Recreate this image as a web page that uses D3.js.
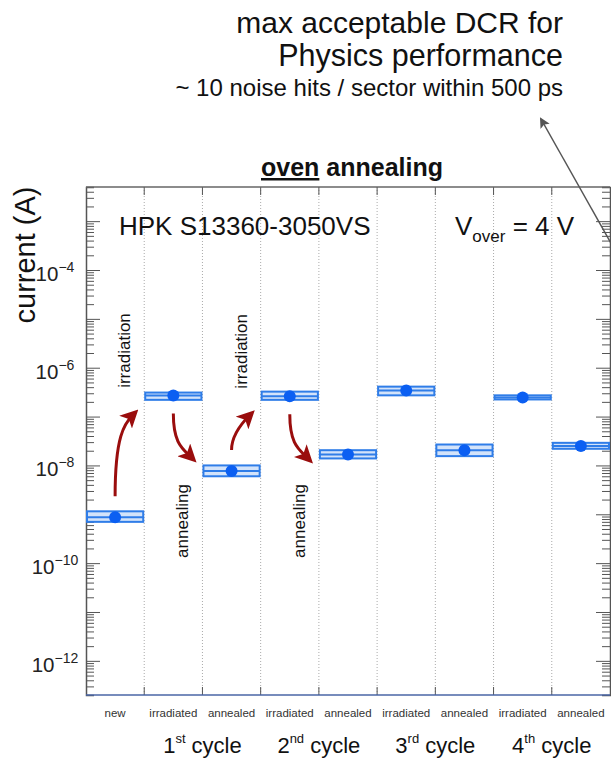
<!DOCTYPE html>
<html>
<head>
<meta charset="utf-8">
<script src="https://cdn.jsdelivr.net/npm/d3@7"></script>
<style>
  body { margin: 0; background: #fff; }
  svg { font-family: "Liberation Sans", Arial, Helvetica, sans-serif; }
</style>
</head>
<body>
<svg width="611" height="759"></svg>
<script>
var width = 611, height = 759;

// data
var stages = ['new', 'irradiated', 'annealed', 'irradiated', 'annealed', 'irradiated', 'annealed', 'irradiated', 'annealed'];
var current = [8.7e-10, 2.7e-7, 7.7e-9, 2.6e-7, 1.67e-8, 3.4e-7, 2.05e-8, 2.45e-7, 2.5e-8];
var currentLo = [7.0e-10, 2.2e-7, 6.0e-9, 2.2e-7, 1.39e-8, 2.72e-7, 1.55e-8, 2.24e-7, 2.19e-8];
var currentHi = [1.15e-9, 3.1e-7, 1.0e-8, 3.24e-7, 2.05e-8, 4.1e-7, 2.68e-8, 2.72e-7, 2.9e-8];
var cycles = [{n: '1', sup: 'st'}, {n: '2', sup: 'nd'}, {n: '3', sup: 'rd'}, {n: '4', sup: 'th'}];
var decadeLabels = [-12, -10, -8, -6, -4];
// arrows between stages: [from, to, kind]
var steps = [[0, 1, 'irradiation'], [1, 2, 'annealing'], [2, 3, 'irradiation'], [3, 4, 'annealing']];

var margin = {left: 86, right: 1, top: 187, bottom: 64};

var svg = d3.select('svg');

var x = d3.scaleBand()
            .domain(d3.range(stages.length))
            .range([margin.left, width - margin.right])
            .padding(0);

var y = d3.scaleLog()
            .domain([2e-13, 5e-3])
            .range([height - margin.bottom, margin.top]);

var x0 = margin.left, x1 = width - margin.right;
var y0 = height - margin.bottom, y1 = margin.top;

// tick values: decades plus 2..9
var tickVals = [];
for (var e = -13; e <= -3; e++) {
    for (var m = 1; m <= 9; m++) {
        var v = m * Math.pow(10, e);
        if (v >= 2e-13 && v <= 5e-3) tickVals.push(v);
    }
}
function isDecade(v) {
    var l = Math.log10(v);
    return Math.abs(l - Math.round(l)) < 1e-6;
}

// vertical dotted grid at stage boundaries
var bounds = d3.range(1, stages.length).map(i => x(i));

svg.append('g')
    .selectAll('line')
    .data(bounds)
    .enter()
    .append('line')
        .attr('x1', d => d).attr('x2', d => d)
        .attr('y1', y1).attr('y2', y0)
        .attr('stroke', '#aaa')
        .attr('stroke-width', 1)
        .attr('stroke-dasharray', '1,2');

// solid short ticks at top and bottom of boundaries
svg.append('g')
    .selectAll('line')
    .data(bounds)
    .enter()
    .append('line')
        .attr('x1', d => d).attr('x2', d => d)
        .attr('y1', y1).attr('y2', y1 + 8)
        .attr('stroke', '#555');
svg.append('g')
    .selectAll('line')
    .data(bounds)
    .enter()
    .append('line')
        .attr('x1', d => d).attr('x2', d => d)
        .attr('y1', y0 - 8).attr('y2', y0)
        .attr('stroke', '#555');

// left axis, ticks inside
var leftAxis = svg.append('g')
    .attr('transform', `translate(${x0},0)`)
    .call(d3.axisRight(y).tickValues(tickVals).tickSize(8).tickFormat(''));
leftAxis.select('.domain').attr('stroke', '#555').attr('stroke-width', 1.5);
leftAxis.selectAll('.tick line')
    .attr('x2', d => isDecade(d) ? 14 : 8)
    .attr('stroke', '#555');

// right axis, ticks inside
var rightAxis = svg.append('g')
    .attr('transform', `translate(${x1},0)`)
    .call(d3.axisLeft(y).tickValues(tickVals).tickSize(8).tickFormat(''));
rightAxis.select('.domain').attr('stroke', '#555').attr('stroke-width', 1.5);
rightAxis.selectAll('.tick line')
    .attr('x2', d => isDecade(d) ? -14 : -8)
    .attr('stroke', '#555');

// top and bottom frame
svg.append('line')
    .attr('x1', x0).attr('x2', x1).attr('y1', y1).attr('y2', y1)
    .attr('stroke', '#666').attr('stroke-width', 1.5);
svg.append('line')
    .attr('x1', x0).attr('x2', x1).attr('y1', y0).attr('y2', y0)
    .attr('stroke', '#4a66a6').attr('stroke-width', 1.5);

// y tick labels 10^n
var yl = svg.append('g')
    .selectAll('text')
    .data(decadeLabels)
    .enter()
    .append('text')
        .attr('x', 55)
        .attr('y', d => y(Math.pow(10, d)) + 11)
        .attr('text-anchor', 'middle')
        .attr('fill', '#222')
        .style('font-size', '20.5px');
yl.append('tspan').text('10');
yl.append('tspan')
    .attr('dy', -9)
    .style('font-size', '14px')
    .text(d => '\u2212' + Math.abs(d));

// y title
svg.append('text')
    .attr('transform', `translate(35,255) rotate(-90)`)
    .attr('text-anchor', 'middle')
    .attr('fill', '#111')
    .style('font-size', '29px')
    .text('current (A)');

// boxes
var mainBlue = '#2f7de8';
var g = svg.append('g');

g.selectAll('.box')
    .data(current)
    .enter()
    .append('rect')
        .classed('box', true)
        .attr('x', (d, i) => x(i) + 1)
        .attr('width', x.bandwidth() - 2)
        .attr('y', (d, i) => y(currentHi[i]))
        .attr('height', (d, i) => Math.max(2, y(currentLo[i]) - y(currentHi[i])))
        .attr('fill', '#d3e3fa')
        .attr('stroke', mainBlue)
        .attr('stroke-width', 2);

g.selectAll('.mid')
    .data(current)
    .enter()
    .append('line')
        .classed('mid', true)
        .attr('x1', (d, i) => x(i) + 1)
        .attr('x2', (d, i) => x(i) + x.bandwidth() - 1)
        .attr('y1', d => y(d))
        .attr('y2', d => y(d))
        .attr('stroke', mainBlue)
        .attr('stroke-width', 2);

g.selectAll('.dot')
    .data(current)
    .enter()
    .append('circle')
        .classed('dot', true)
        .attr('cx', (d, i) => x(i) + x.bandwidth() / 2)
        .attr('cy', d => y(d))
        .attr('r', 6)
        .attr('fill', '#0b5ff2');

// red curved arrows
var red = '#9a0d0d';
var defs = svg.append('defs');
defs.append('marker')
    .attr('id', 'redhead')
    .attr('viewBox', '0 0 10 10')
    .attr('refX', 6).attr('refY', 5)
    .attr('markerWidth', 6).attr('markerHeight', 6)
    .attr('markerUnits', 'strokeWidth')
    .attr('orient', 'auto')
    .append('path')
        .attr('d', 'M0,0 L10,5 L0,10 L2.5,5 Z')
        .attr('fill', red);
defs.append('marker')
    .attr('id', 'greyhead')
    .attr('viewBox', '0 0 10 10')
    .attr('refX', 8).attr('refY', 5)
    .attr('markerWidth', 7).attr('markerHeight', 7)
    .attr('markerUnits', 'strokeWidth')
    .attr('orient', 'auto')
    .append('path')
        .attr('d', 'M0,0 L10,5 L0,10 L2,5 Z')
        .attr('fill', '#555');

function arrowPath(s) {
    var a = s[0], b = s[1];
    var sx = x(a) + x.bandwidth() / 2;
    var ex = x(b) - 11;
    var sy, ey;
    if (s[2] === 'irradiation') {
        sy = y(current[a]) - 21;
        ey = y(current[b]) + 19;
        return `M${sx},${sy} C${sx},${ey + 22} ${ex - 9},${ey + 9} ${ex},${ey}`;
    }
    sy = y(current[a]) + 18;
    ey = sy + 44;
    return `M${sx},${sy} C${sx},${sy + 30} ${ex - 9},${ey - 9} ${ex},${ey}`;
}

svg.append('g')
    .selectAll('path')
    .data(steps)
    .enter()
    .append('path')
        .attr('d', arrowPath)
        .attr('fill', 'none')
        .attr('stroke', red)
        .attr('stroke-width', 3)
        .attr('marker-end', 'url(#redhead)');

svg.append('g')
    .selectAll('text')
    .data(steps)
    .enter()
    .append('text')
        .attr('transform', d => {
            var tx = x(d[1]) - 14;
            var ty = d[2] === 'irradiation' ? y(current[d[1]]) - 45 : 521;
            return `translate(${tx},${ty}) rotate(-90)`;
        })
        .attr('text-anchor', 'middle')
        .attr('fill', '#111')
        .style('font-size', '17px')
        .text(d => d[2]);

// stage labels
svg.append('g')
    .selectAll('text')
    .data(stages)
    .enter()
    .append('text')
        .attr('x', (d, i) => x(i) + x.bandwidth() / 2)
        .attr('y', 717)
        .attr('text-anchor', 'middle')
        .attr('fill', '#333')
        .style('font-size', '11.5px')
        .text(d => d);

// cycle labels
var cl = svg.append('g')
    .selectAll('text')
    .data(cycles)
    .enter()
    .append('text')
        .attr('x', (d, i) => x(2 * i + 2))
        .attr('y', 753)
        .attr('text-anchor', 'middle')
        .attr('fill', '#111')
        .style('font-size', '22px');
cl.append('tspan').text(d => d.n);
cl.append('tspan').attr('dy', -10).style('font-size', '13px').text(d => d.sup);
cl.append('tspan').attr('dy', 10).text(' cycle');

// in-frame labels
svg.append('text')
    .attr('x', 119).attr('y', 235)
    .attr('fill', '#111')
    .style('font-size', '26px')
    .text('HPK S13360-3050VS');

var vo = svg.append('text')
    .attr('x', 455).attr('y', 235)
    .attr('fill', '#111')
    .style('font-size', '26px');
vo.append('tspan').text('V');
vo.append('tspan').attr('dy', 7).style('font-size', '17px').text('over');
vo.append('tspan').attr('dy', -7).text(' = 4 V');

// title
var title = svg.append('text')
    .attr('x', 352).attr('y', 176)
    .attr('text-anchor', 'middle')
    .attr('fill', '#111')
    .style('font-size', '25px')
    .style('font-weight', 'bold');
title.append('tspan').style('text-decoration', 'underline').text('oven');
title.append('tspan').text(' annealing');

// annotation at top
svg.append('text')
    .attr('x', 563).attr('y', 33)
    .attr('text-anchor', 'end')
    .attr('fill', '#111')
    .style('font-size', '30px')
    .text('max acceptable DCR for');
svg.append('text')
    .attr('x', 563).attr('y', 66)
    .attr('text-anchor', 'end')
    .attr('fill', '#111')
    .style('font-size', '30.5px')
    .text('Physics performance');
svg.append('text')
    .attr('x', 563).attr('y', 96)
    .attr('text-anchor', 'end')
    .attr('fill', '#111')
    .style('font-size', '24px')
    .text('~ 10 noise hits / sector within 500 ps');

svg.append('line')
    .attr('x1', 612).attr('y1', 245)
    .attr('x2', 541).attr('y2', 119)
    .attr('stroke', '#555')
    .attr('stroke-width', 1.5)
    .attr('marker-end', 'url(#greyhead)');
</script>
</body>
</html>
